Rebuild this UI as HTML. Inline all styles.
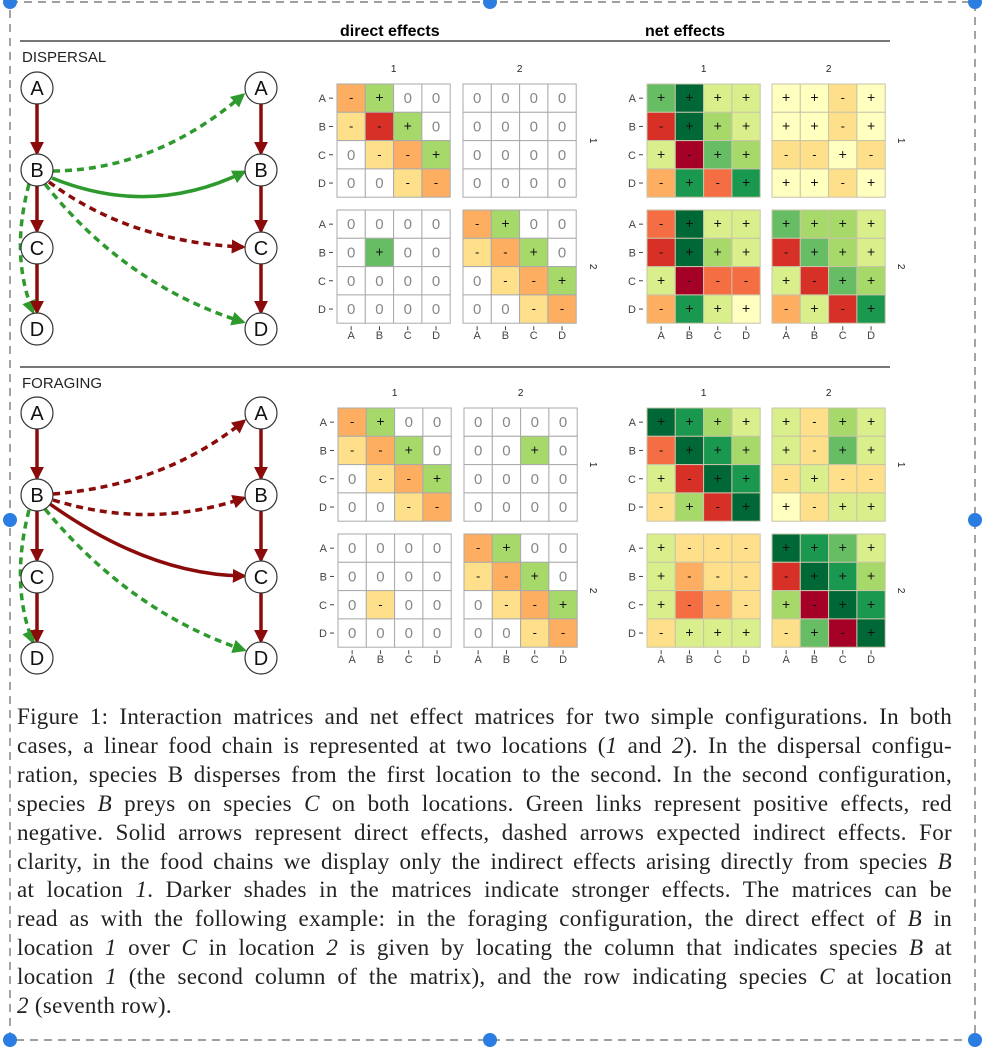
<!DOCTYPE html>
<html><head><meta charset="utf-8"><style>
html,body{margin:0;padding:0;background:#fff;}
#wrap{position:relative;width:994px;height:1048px;overflow:hidden;}
svg{position:absolute;left:0;top:0;}
#cap{position:absolute;left:17px;top:703px;width:935px;font-family:"Liberation Serif",serif;font-size:23px;letter-spacing:0.3px;line-height:28.9px;color:#222;}
#cap div{text-align:justify;text-align-last:justify;white-space:nowrap;}
#cap div.last{text-align-last:left;}
</style></head><body>
<div id="wrap">
<svg id="fig" width="994" height="1048" viewBox="0 0 994 1048">
<defs>
<marker id="mg" viewBox="0 0 10 10" refX="8" refY="5" markerWidth="4" markerHeight="4" orient="auto"><path d="M0,0L10,5L0,10z" fill="#2e9a2e"/></marker>
<marker id="mr" viewBox="0 0 10 10" refX="8" refY="5" markerWidth="4" markerHeight="4" orient="auto"><path d="M0,0L10,5L0,10z" fill="#8b0a0a"/></marker>
</defs>
<rect x="10" y="2" width="965" height="1038" fill="none" stroke="#666" stroke-width="1.2" stroke-dasharray="8,6"/>
<text x="340" y="36" font-family="Liberation Sans, sans-serif" font-weight="bold" font-size="16">direct effects</text>
<text x="645" y="36" font-family="Liberation Sans, sans-serif" font-weight="bold" font-size="16">net effects</text>
<line x1="20" y1="41" x2="890" y2="41" stroke="#777" stroke-width="2"/>
<text x="22" y="62" font-family="Liberation Sans, sans-serif" font-size="15" fill="#222">DISPERSAL</text>
<line x1="20" y1="367" x2="890" y2="367" stroke="#777" stroke-width="2"/>
<text x="22" y="388" font-family="Liberation Sans, sans-serif" font-size="15" fill="#222">FORAGING</text>
<g id="graphs"></g>
<g id="mats"></g>
<g id="dots"></g>
</svg>
<div id="cap">
<div>Figure 1: Interaction matrices and net effect matrices for two simple configurations. In both</div>
<div>cases, a linear food chain is represented at two locations (<i>1</i> and <i>2</i>). In the dispersal configu-</div>
<div>ration, species B disperses from the first location to the second. In the second configuration,</div>
<div>species <i>B</i> preys on species <i>C</i> on both locations. Green links represent positive effects, red</div>
<div>negative. Solid arrows represent direct effects, dashed arrows expected indirect effects. For</div>
<div>clarity, in the food chains we display only the indirect effects arising directly from species <i>B</i></div>
<div>at location <i>1</i>. Darker shades in the matrices indicate stronger effects. The matrices can be</div>
<div>read as with the following example: in the foraging configuration, the direct effect of <i>B</i> in</div>
<div>location <i>1</i> over <i>C</i> in location <i>2</i> is given by locating the column that indicates species <i>B</i> at</div>
<div>location <i>1</i> (the second column of the matrix), and the row indicating species <i>C</i> at location</div>
<div class="last"><i>2</i> (seventh row).</div>
</div>
</div>
<script>
const species = ["A","B","C","D"];
const locations = ["1","2"];
const dispDirect = [
 [-2,3,0,0, 0,0,0,0],
 [-1,-4,3,0, 0,0,0,0],
 [0,-1,-2,3, 0,0,0,0],
 [0,0,-1,-2, 0,0,0,0],
 [0,0,0,0, -2,3,0,0],
 [0,4,0,0, -1,-2,3,0],
 [0,0,0,0, 0,-1,-2,3],
 [0,0,0,0, 0,0,-1,-2]];
const dispNet = [
 [4,6,2,2, 1,1,-1,1],
 [-4,6,3,2, 1,1,-1,1],
 [2,-5,4,3, -1,-1,1,-1],
 [-2,5,-3,5, 1,1,-1,1],
 [-3,6,2,2, 4,3,3,2],
 [-4,6,3,2, -4,4,3,2],
 [2,-5,-3,-3, 2,-4,4,3],
 [-2,5,2,1, -2,2,-4,5]];
const forDirect = [
 [-2,3,0,0, 0,0,0,0],
 [-1,-2,3,0, 0,0,3,0],
 [0,-1,-2,3, 0,0,0,0],
 [0,0,-1,-2, 0,0,0,0],
 [0,0,0,0, -2,3,0,0],
 [0,0,0,0, -1,-2,3,0],
 [0,-1,0,0, 0,-1,-2,3],
 [0,0,0,0, 0,0,-1,-2]];
const forNet = [
 [6,5,3,2, 2,-1,3,2],
 [-3,6,5,3, 2,-1,4,2],
 [2,-4,6,5, -1,2,-1,-1],
 [-1,3,-4,6, 1,-1,2,2],
 [2,-1,-1,-1, 6,5,4,2],
 [2,-2,-1,-1, -4,6,5,3],
 [2,-3,-2,-1, 3,-5,6,5],
 [-1,2,2,2, -1,4,-5,6]];

const NS="http://www.w3.org/2000/svg";
function mk(tag,attrs,parent){const e=document.createElementNS(NS,tag);for(const k in attrs)e.setAttribute(k,attrs[k]);parent.appendChild(e);return e;}
const neg={"-5":"#a50026","-4":"#d73027","-3":"#f46d43","-2":"#fdae61","-1":"#fee08b"};
const pos={"1":"#ffffbf","2":"#d9ef8b","3":"#a6d96a","4":"#66bd63","5":"#1a9850","6":"#006837"};
function color(v){return v===0?"#ffffff":(v<0?neg[v]:pos[v]);}
const cs=28.3;
function colX(xL,xR,j){return (j<4?xL:xR)+(j%4)*cs;}
function rowY(yT,yB,i){return (i<4?yT:yB)+(i%4)*cs;}
function drawMatrix(name,data,xL,xR,yT,yB,stripX,isNet){
 const g=mk("g",{},document.getElementById("mats"));
 
 
 for(let i=0;i<8;i++)for(let j=0;j<8;j++){
  const v=data[i][j];const x=colX(xL,xR,j),y=rowY(yT,yB,i);
  const r=mk("rect",{x:x,y:y,width:cs,height:cs,fill:color(v),stroke:isNet?"#c8c4a8":"#aaa","stroke-width":1},g);
  
  
  const t=mk("text",{x:x+cs/2,y:y+cs/2+(v===0?5:4),"text-anchor":"middle","font-family":"Liberation Sans, sans-serif","font-size":v===0?15:(v>0?14:13),fill:v===0?"#888":"#111"},g);
  t.textContent=v===0?"0":(v>0?"+":"-");
  
  
 }
 for(let b=0;b<2;b++){
  const t=mk("text",{x:(b?xR:xL)+2*cs,y:yT-12,"text-anchor":"middle","font-family":"Liberation Sans, sans-serif","font-size":10,fill:"#222"},g);
  t.textContent=locations[b];
  
  
  const yy=(b?yB:yT)+2*cs;
  const s=mk("text",{x:stripX,y:yy,"text-anchor":"middle","font-family":"Liberation Sans, sans-serif","font-size":10,fill:"#222",transform:"rotate(90 "+stripX+" "+yy+")"},g);
  s.textContent=locations[b];
  
  
 }
 for(let i=0;i<8;i++){
  const y=rowY(yT,yB,i)+cs/2;
  const t=mk("text",{x:xL-11,y:y+4,"text-anchor":"end","font-family":"Liberation Sans, sans-serif","font-size":11,fill:"#444"},g);
  t.textContent=species[i%4];
  
  
  mk("line",{x1:xL-8,y1:y,x2:xL-4,y2:y,stroke:"#444","stroke-width":1},g);
 }
 for(let j=0;j<8;j++){
  const x=colX(xL,xR,j)+cs/2;
  const t=mk("text",{x:x,y:yB+4*cs+16,"text-anchor":"middle","font-family":"Liberation Sans, sans-serif","font-size":11,fill:"#444"},g);
  t.textContent=species[j%4];
  
  
  mk("line",{x1:x,y1:yB+4*cs+3,x2:x,y2:yB+4*cs+7,stroke:"#444","stroke-width":1},g);
 }
}
drawMatrix("dispersal-direct-matrix",dispDirect,337,463,84,210,590,false);
drawMatrix("dispersal-net-matrix",dispNet,647,772,84,210,898,true);
drawMatrix("foraging-direct-matrix",forDirect,338,464,408,534,590,false);
drawMatrix("foraging-net-matrix",forNet,647,772,408,534,898,true);

const G="#2e9a2e",R="#8b0a0a";
function graph(name,ys,edges){
 const g=mk("g",{},document.getElementById("graphs"));
 
 
 edges.forEach(e=>{
  const p=mk("path",{d:e[0],fill:"none",stroke:e[1],"stroke-width":3.5,"stroke-dasharray":e[2]?"7,5":"none","marker-end":e[1]===G?"url(#mg)":"url(#mr)"},g);
  
  
 });
 [37,261].forEach(cx=>{
  for(let i=0;i<3;i++){
   const p=mk("path",{d:"M"+cx+","+(ys[i]+16)+"L"+cx+","+(ys[i+1]-17),stroke:R,"stroke-width":3.5,"marker-end":"url(#mr)"},g);
   
   
  }
  for(let i=0;i<4;i++){
   const c=mk("circle",{cx:cx,cy:ys[i],r:16,fill:"#fff",stroke:"#333","stroke-width":1.2},g);
   
   
   const t=mk("text",{x:cx,y:ys[i]+7,"text-anchor":"middle","font-family":"Liberation Sans, sans-serif","font-size":20,fill:"#111"},g);
   t.textContent=species[i];
   
   
  }
 });
}
graph("dispersal-food-chain",[88,170,248,329],[
 ["M53,171 Q155,170 243,95",G,true],
 ["M52,178 Q150,218 244,172",G,false],
 ["M49,182 Q130,242 243,247",R,true],
 ["M45,184 Q125,285 243,322",G,true],
 ["M29,184 Q10,255 33,312",G,true]]);
graph("foraging-food-chain",[413,495,577,658],[
 ["M53,494 Q165,485 244,421",R,true],
 ["M53,500 Q150,530 244,498",R,true],
 ["M50,504 Q150,575 244,576",R,false],
 ["M45,509 Q130,612 244,650",G,true],
 ["M29,510 Q10,585 33,642",G,true]]);

const dots=[[10,2],[490,2],[975,2],[10,520],[975,520],[10,1040],[490,1040],[975,1040]];
dots.forEach(d=>{
 const c=mk("circle",{cx:d[0],cy:d[1],r:7,fill:"#2b7de1"},document.getElementById("dots"));
 
 
});
</script>
</body></html>
